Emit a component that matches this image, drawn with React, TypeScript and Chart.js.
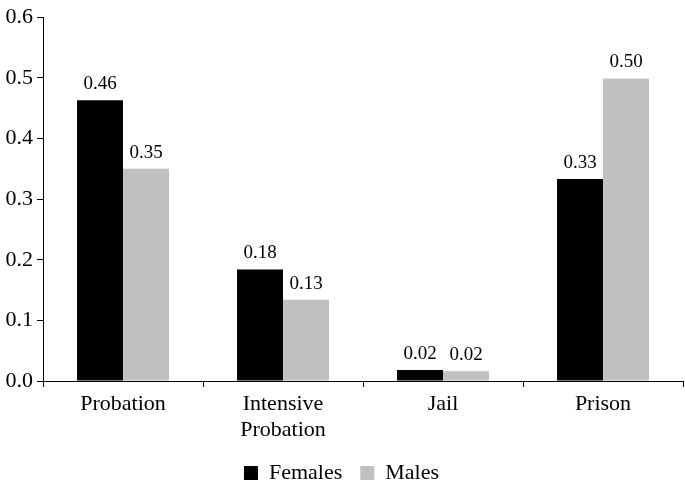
import React, { useEffect, useRef } from "react";
import { Chart, registerables } from "chart.js";

Chart.register(...registerables);

const categories: (string | string[])[] = ["Probation", ["Intensive", "Probation"], "Jail", "Prison"];
const females = [0.463, 0.184, 0.018, 0.333];
const males = [0.35, 0.134, 0.016, 0.499];
const yTicks = [0, 0.1, 0.2, 0.3, 0.4, 0.5, 0.6];

const FONT = "'Liberation Serif', 'Times New Roman', serif";

// draws the value above each bar
const barValues = {
   id: "barValues",
   afterDatasetsDraw(chart: any) {
      const ctx = chart.ctx;
      ctx.save();
      ctx.font = `19px ${FONT}`;
      ctx.fillStyle = "#000";
      ctx.textAlign = "center";
      ctx.textBaseline = "alphabetic";
      chart.data.datasets.forEach((ds: any, i: number) => {
         chart.getDatasetMeta(i).data.forEach((bar: any, j: number) => {
            ctx.fillText(Number(ds.data[j]).toFixed(2), bar.x, bar.y - 11);
         });
      });
      ctx.restore();
   },
};

const App = () => {
   const chartRef = useRef<HTMLCanvasElement | null>(null);

   useEffect(() => {
      document.body.style.margin = "0";
      if (!chartRef.current) return;
      const ctx = chartRef.current.getContext("2d");
      if (!ctx) return;
      const chart = new Chart(ctx, {
         type: "bar",
         data: {
            labels: categories,
            datasets: [
               { label: "Females", data: females, backgroundColor: "#000000" },
               { label: "Males", data: males, backgroundColor: "#c0c0c0" },
            ],
         },
         options: {
            animation: false,
            responsive: false,
            layout: { padding: { top: 4, right: 2, left: 0, bottom: 0 } },
            datasets: { bar: { categoryPercentage: 0.575, barPercentage: 1 } },
            scales: {
               x: {
                  afterFit: (axis: any) => {
                     axis.height = 63;
                  },
                  grid: { offset: true, drawOnChartArea: false, color: "#000", tickLength: 6, tickWidth: 1 },
                  border: { color: "#000", width: 1 },
                  ticks: {
                     color: "#000",
                     font: { family: FONT, size: 22, lineHeight: 1.15 },
                     padding: 5,
                     maxRotation: 0,
                  },
               },
               y: {
                  min: 0,
                  max: 0.6,
                  afterFit: (axis: any) => {
                     axis.width = 43;
                  },
                  afterBuildTicks: (axis: any) => {
                     axis.ticks = yTicks.map((v) => ({ value: v }));
                  },
                  grid: { drawOnChartArea: false, color: "#000", tickLength: 6 },
                  border: { color: "#000", width: 1 },
                  ticks: {
                     color: "#000",
                     font: { family: FONT, size: 22 },
                     padding: 4,
                     callback: (v: any) => Number(v).toFixed(1),
                  },
               },
            },
            plugins: {
               legend: {
                  position: "bottom",
                  maxHeight: 42,
                  labels: {
                     color: "#000",
                     font: { family: FONT, size: 22 },
                     boxWidth: 14,
                     boxHeight: 14,
                     padding: 18,
                  },
               },
               tooltip: { enabled: false },
            },
         },
         plugins: [barValues],
      });
      return () => {
         chart.destroy();
      };
   }, []);

   return (
      <div style={{ width: 685, height: 486, background: "#fff" }}>
         <canvas ref={chartRef} width={685} height={486} />
      </div>
   );
};

export default App;
